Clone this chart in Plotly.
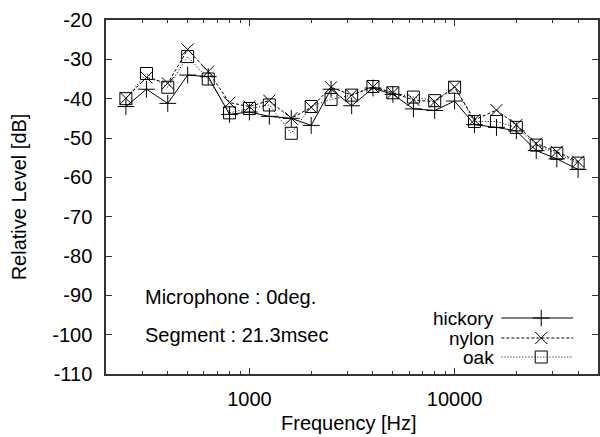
import plotly.graph_objects as go

freqs = [250, 315, 400, 500, 630, 800, 1000, 1250, 1600, 2000, 2500, 3150,
         4000, 5000, 6300, 8000, 10000, 12500, 16000, 20000, 25000, 31500, 40000]
hickory = [-42.0, -37.6, -41.2, -34.0, -34.4, -44.0, -43.4, -44.5, -45.0, -46.8, -37.6, -41.8,
           -37.3, -38.9, -42.6, -43.0, -40.6, -46.6, -47.3, -48.2, -53.2, -55.3, -58.0]
nylon = [-39.9, -34.6, -36.1, -27.5, -33.1, -41.0, -42.0, -40.5, -45.0, -42.2, -37.1, -39.1,
         -37.0, -38.5, -40.3, -40.8, -37.0, -45.4, -42.9, -46.7, -51.4, -53.5, -56.0]
oak = [-40.0, -33.6, -37.1, -29.3, -35.0, -43.6, -42.5, -41.6, -48.8, -42.0, -40.2, -39.1,
       -36.9, -38.5, -39.6, -40.5, -37.1, -45.8, -45.8, -47.3, -51.8, -53.9, -56.4]

series_names = ["hickory", "nylon", "oak"]
series_vals = [hickory, nylon, oak]
symbols = ["cross-thin-open", "x-thin-open", "square-open"]
dashes = ["solid", "3px,2px", "1px,2px"]
sizes = [12, 12, 12]

y_ticks = list(range(-20, -111, -10))
x_major = [1000, 10000]
x_minor = [200, 300, 400, 500, 600, 700, 800, 900,
           2000, 3000, 4000, 5000, 6000, 7000, 8000, 9000,
           20000, 30000, 40000, 50000]

FONT = "Liberation Sans, Arial, sans-serif"
W, H = 600, 437
ML, MR, MT, MB = 106, 0, 20, 63
PW, PH = W - ML - MR, H - MT - MB

def px(xp):
    return (xp - ML) / PW

def py(yp):
    return (H - MB - yp) / PH

fig = go.Figure()
for name, vals, sym, dash, sz in zip(series_names, series_vals, symbols, dashes, sizes):
    fig.add_trace(go.Scatter(
        x=freqs, y=vals, mode="lines+markers", name=name, showlegend=False,
        line=dict(color="black", width=1, dash=dash),
        marker=dict(symbol=sym, size=sz, color="black", line=dict(color="black", width=1)),
    ))

# custom gnuplot-style key (text then sample) drawn on an auxiliary 0..1 axis pair
key_rows = [318, 338, 357]
for name, sym, dash, sz, ry in zip(series_names, symbols, dashes, sizes, key_rows):
    fig.add_trace(go.Scatter(
        x=[px(503), px(575)], y=[py(ry), py(ry)], mode="lines", xaxis="x2", yaxis="y2",
        showlegend=False, hoverinfo="skip",
        line=dict(color="black", width=1, dash=dash)))
    fig.add_trace(go.Scatter(
        x=[px(543)], y=[py(ry)], mode="markers", xaxis="x2", yaxis="y2",
        showlegend=False, hoverinfo="skip",
        marker=dict(symbol=sym, size=sz, color="black", line=dict(color="black", width=1))))
    fig.add_annotation(x=px(498), y=py(ry), xref="paper", yref="paper",
                       xanchor="right", yanchor="middle", text=name, showarrow=False,
                       font=dict(size=19, family=FONT, color="black"))

fig.add_annotation(x=px(143), y=py(297), xref="paper", yref="paper", xanchor="left",
                   yanchor="middle", text="Microphone : 0deg.", showarrow=False,
                   font=dict(size=20, family=FONT, color="black"))
fig.add_annotation(x=px(143), y=py(335), xref="paper", yref="paper", xanchor="left",
                   yanchor="middle", text="Segment : 21.3msec", showarrow=False,
                   font=dict(size=20, family=FONT, color="black"))
fig.add_annotation(x=px(350), y=py(423), xref="paper", yref="paper", xanchor="center",
                   yanchor="middle", text="Frequency [Hz]", showarrow=False,
                   font=dict(size=20, family=FONT, color="black"))
fig.add_annotation(x=px(19), y=py(197), xref="paper", yref="paper", xanchor="center",
                   yanchor="middle", text="Relative Level [dB]", textangle=-90, showarrow=False,
                   font=dict(size=20, family=FONT, color="black"))

fig.update_layout(
    width=W, height=H, margin=dict(l=ML, r=MR, t=MT, b=MB),
    paper_bgcolor="white", plot_bgcolor="white",
    font=dict(family=FONT, size=20, color="black"),
    xaxis=dict(type="log", range=[2.30103, 4.69897], showgrid=False, zeroline=False,
               tickvals=x_major, ticktext=[str(v) for v in x_major],
               ticks="inside", ticklen=6, tickcolor="#333", tickwidth=1,
               showline=True, linecolor="#333", linewidth=1.5, mirror="allticks",
               minor=dict(tickvals=x_minor, ticks="inside", ticklen=3, tickcolor="#333", tickwidth=1),
               tickfont=dict(size=20, family=FONT, color="black"), ticklabelstandoff=6),
    yaxis=dict(range=[-110, -20], showgrid=False, zeroline=False,
               tickvals=y_ticks, ticktext=[str(v) for v in y_ticks],
               ticks="inside", ticklen=6, tickcolor="#333", tickwidth=1,
               showline=True, linecolor="#333", linewidth=1.5, mirror="allticks",
               tickfont=dict(size=20, family=FONT, color="black"), ticklabelstandoff=8),
    xaxis2=dict(range=[0, 1], domain=[0, 1], anchor="y2", overlaying="x", visible=False),
    yaxis2=dict(range=[0, 1], domain=[0, 1], anchor="x2", overlaying="y", visible=False),
)

fig.write_html("out.html")
